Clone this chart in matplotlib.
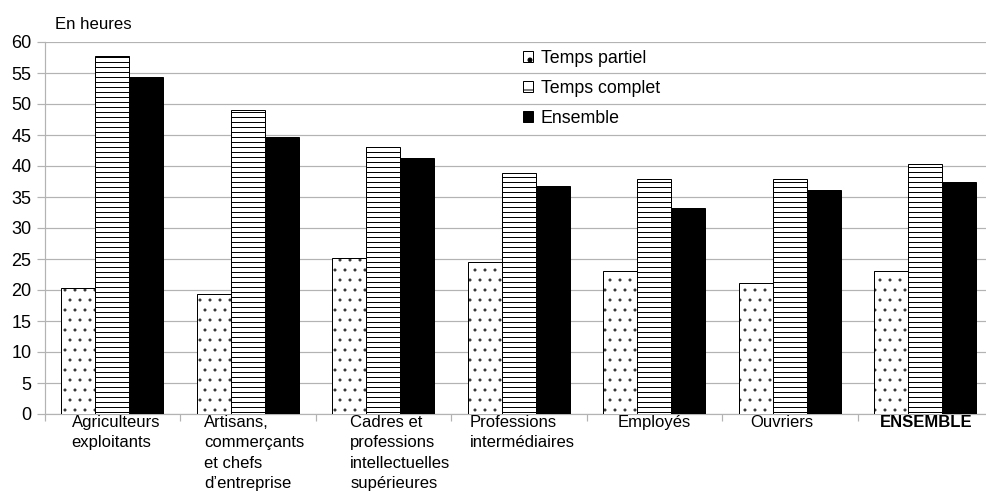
import matplotlib
matplotlib.use("Agg")
import matplotlib.pyplot as plt
import numpy as np
from matplotlib.transforms import blended_transform_factory, offset_copy
from matplotlib.patches import Patch

# ---- data ----
categories = ["Agriculteurs\nexploitants",
              "Artisans,\ncommerçants\net chefs\nd\u2019entreprise",
              "Cadres et\nprofessions\nintellectuelles\nsupérieures",
              "Professions\nintermédiaires",
              "Employés",
              "Ouvriers",
              "ENSEMBLE"]
series_names = ["Temps partiel", "Temps complet", "Ensemble"]
temps_partiel = [20.4, 19.3, 25.1, 24.5, 23.0, 21.2, 23.1]
temps_complet = [57.7, 49.1, 43.1, 38.9, 37.9, 37.9, 40.4]
ensemble = [54.3, 44.7, 41.3, 36.8, 33.3, 36.1, 37.5]
yticks = [0, 5, 10, 15, 20, 25, 30, 35, 40, 45, 50, 55, 60]
unit_label = "En heures"

# ---- figure ----
DPI = 120
P = 72 / DPI          # points per pixel
W, H = 986, 491
plt.rcParams['font.family'] = ['Liberation Sans', 'DejaVu Sans']
plt.rcParams['hatch.linewidth'] = 1.0 * P
fig = plt.figure(figsize=(W / DPI, H / DPI), dpi=DPI)

ax_left, ax_right, ax_top, ax_bottom = 44.5, 993.0, 42.0, 414.0
ax = fig.add_axes([ax_left / W, 1 - ax_bottom / H,
                   (ax_right - ax_left) / W, (ax_bottom - ax_top) / H])

grey = '#b3b3b3'
x = np.arange(len(categories))
bw = 0.25
styles = [dict(facecolor='white', hatch='..', hatchcol='#303030'),
          dict(facecolor='white', hatch='----', hatchcol='black'),
          dict(facecolor='black', hatch=None, hatchcol='black')]
vals = [temps_partiel, temps_complet, ensemble]
handles = []
for i, (v, st, name) in enumerate(zip(vals, styles, series_names)):
    pos = x + (i - 1) * bw
    ax.bar(pos, v, width=bw, facecolor=st['facecolor'], hatch=st['hatch'],
           edgecolor=st['hatchcol'], linewidth=0, zorder=3)
    ax.bar(pos, v, width=bw, fill=False, edgecolor='black',
           linewidth=1.0 * P, zorder=4)
    handles.append(Patch(facecolor=st['facecolor'],
                         hatch=None if st['hatch'] is None else st['hatch'][:1],
                         edgecolor='black', linewidth=1.0 * P))

ax.set_xlim(-0.5, len(categories) - 0.5)
ax.set_ylim(0, 60)
ax.set_yticks(yticks)
ax.set_yticklabels([str(t) for t in yticks], fontsize=18 * P)
ax.yaxis.grid(True, color=grey, linewidth=1.2 * P, zorder=0)
ax.set_axisbelow(True)
for s in ['top', 'right']:
    ax.spines[s].set_visible(False)
for s in ['left', 'bottom']:
    ax.spines[s].set_color(grey)
    ax.spines[s].set_linewidth(1.2 * P)
ax.tick_params(axis='y', length=8 * P, width=1.2 * P, color=grey, pad=5 * P)
ax.set_xticks(np.arange(len(categories) + 1) - 0.5)
ax.set_xticklabels([])
ax.tick_params(axis='x', length=7 * P, width=1.2 * P, color=grey)

# category labels (centered block, left-aligned lines)
label_dx_px = [3.7, 6.4, 17.0, 3.7, 0.0, -8.0, 1.0]
trans = blended_transform_factory(ax.transData, ax.transAxes)
for i, (lab, dx) in enumerate(zip(categories, label_dx_px)):
    t = offset_copy(trans, fig=fig, x=dx * P, y=-1.0 * P, units='points')
    ax.text(i, 0, lab, transform=t, ha='center', va='top', multialignment='left',
            fontsize=16.6 * P, linespacing=1.45,
            fontweight='bold' if lab == 'ENSEMBLE' else 'normal')

fig.text(55 / W, 1 - 29 / H, unit_label, fontsize=16.8 * P, ha='left', va='baseline')

leg = ax.legend(handles, series_names,
                loc='upper left', bbox_to_anchor=(523 / W, 1 - 50 / H),
                bbox_transform=fig.transFigure, frameon=False, fontsize=17.8 * P,
                borderpad=0, borderaxespad=0, handlelength=0.56, handleheight=0.56,
                handletextpad=0.45, labelspacing=0.72)

fig.savefig('out.png', dpi=DPI)
